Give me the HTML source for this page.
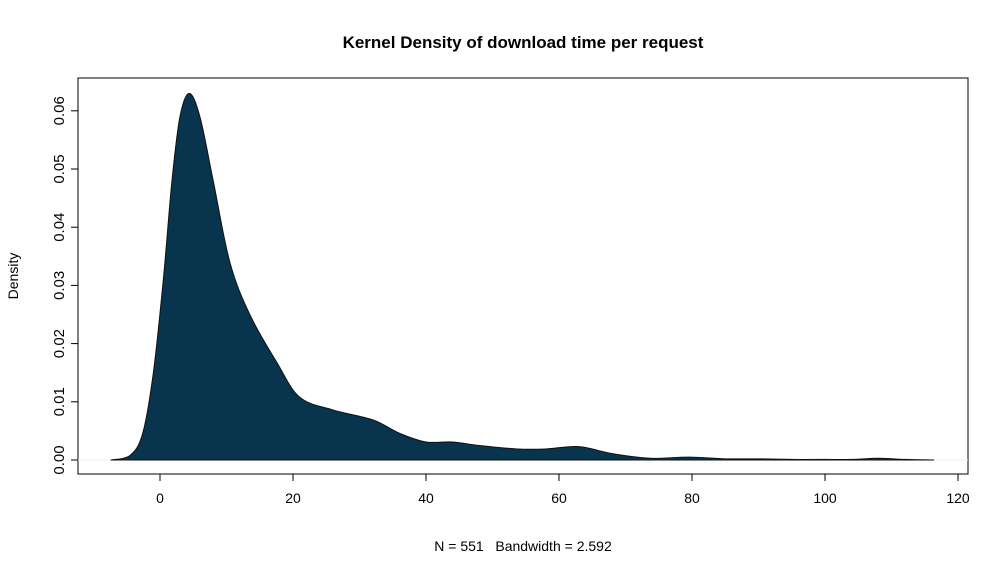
<!DOCTYPE html>
<html><head><meta charset="utf-8"><style>
body{margin:0;background:#fff;}
svg text{font-family:"Liberation Sans",Arial,sans-serif;fill:#000;}
</style></head><body>
<svg id="chart" width="1007" height="573" xmlns="http://www.w3.org/2000/svg">
<rect width="1007" height="573" fill="#fff"/>
<text x="523" y="48" font-size="17" font-weight="bold" text-anchor="middle">Kernel Density of download time per request</text>
<rect x="78" y="78" width="890" height="396" fill="none" stroke="#000" stroke-width="1"/>
<g id="plot"></g>
<text x="523" y="551" font-size="14" text-anchor="middle" style="white-space:pre" xml:space="preserve">N = 551   Bandwidth = 2.592</text>
<text transform="translate(18,276) rotate(-90)" font-size="14" text-anchor="middle">Density</text>
</svg>
<script>
const xs = [-7.4,-4.5,-2.6,-1.0,0.5,1.8,3.0,4.4,6.0,8.0,10.5,13.5,17.6,21,26,32,36,40,44,48,53.8,58,63,68,73.7,79.5,85,89.8,95,100,104,108,112,116.4];
const ys = [0,0.0008,0.0046,0.015,0.031,0.048,0.059,0.063,0.059,0.048,0.034,0.025,0.0167,0.0108,0.0086,0.0069,0.0046,0.0031,0.0031,0.0025,0.0019,0.0019,0.0023,0.0011,0.0003,0.0005,0.0002,0.0002,0.0001,0.0001,0.0001,0.0003,0.0001,0];
const xTicks = [0,20,40,60,80,100,120];
const yTicks = [0,0.01,0.02,0.03,0.04,0.05,0.06];
const yTickLabels = ["0.00","0.01","0.02","0.03","0.04","0.05","0.06"];

const NS="http://www.w3.org/2000/svg";
const sx = v => 160 + v*6.65;
const sy = v => 460 - v*5820;
const g = document.getElementById('plot');

const bl = document.createElementNS(NS,'line');


bl.setAttribute('x1',78);bl.setAttribute('x2',968);bl.setAttribute('y1',sy(0));bl.setAttribute('y2',sy(0));
bl.setAttribute('stroke','#eee');bl.setAttribute('stroke-width','1');
g.appendChild(bl);

const pts = xs.map((x,i)=>[sx(x),sy(ys[i])]);
let d = `M${pts[0][0]},${pts[0][1]}`;
for(let i=0;i<pts.length-1;i++){
  const p0=pts[Math.max(0,i-1)],p1=pts[i],p2=pts[i+1],p3=pts[Math.min(pts.length-1,i+2)];
  const c1=[p1[0]+(p2[0]-p0[0])/6,p1[1]+(p2[1]-p0[1])/6];
  const c2=[p2[0]-(p3[0]-p1[0])/6,p2[1]-(p3[1]-p1[1])/6];
  d+=` C${c1[0]},${Math.min(c1[1],460)} ${c2[0]},${Math.min(c2[1],460)} ${p2[0]},${p2[1]}`;
}
const area = document.createElementNS(NS,'path');


area.setAttribute('d', d+` L${sx(xs[0])},${sy(0)} Z`);
area.setAttribute('fill','#08344d');
area.setAttribute('stroke','#111');
area.setAttribute('stroke-width','1');
g.appendChild(area);

xTicks.forEach(t=>{
  const l=document.createElementNS(NS,'line');
  
  
  l.setAttribute('x1',sx(t));l.setAttribute('x2',sx(t));l.setAttribute('y1',474);l.setAttribute('y2',481);
  l.setAttribute('stroke','#000');
  g.appendChild(l);
  const tx=document.createElementNS(NS,'text');
  
  
  tx.setAttribute('x',sx(t));tx.setAttribute('y',503);tx.setAttribute('font-size','14');tx.setAttribute('text-anchor','middle');
  tx.textContent=t;
  g.appendChild(tx);
});
const ax=document.createElementNS(NS,'line');


ax.setAttribute('x1',sx(0));ax.setAttribute('x2',sx(120));ax.setAttribute('y1',474);ax.setAttribute('y2',474);ax.setAttribute('stroke','#000');
g.appendChild(ax);

yTicks.forEach((t,i)=>{
  const l=document.createElementNS(NS,'line');
  
  
  l.setAttribute('x1',71);l.setAttribute('x2',78);l.setAttribute('y1',sy(t));l.setAttribute('y2',sy(t));
  l.setAttribute('stroke','#000');
  g.appendChild(l);
  const tx=document.createElementNS(NS,'text');
  
  
  tx.setAttribute('transform',`translate(64,${sy(t)}) rotate(-90)`);
  tx.setAttribute('font-size','15');tx.setAttribute('text-anchor','middle');
  tx.textContent=yTickLabels[i];
  g.appendChild(tx);
});
</script>
</body></html>
